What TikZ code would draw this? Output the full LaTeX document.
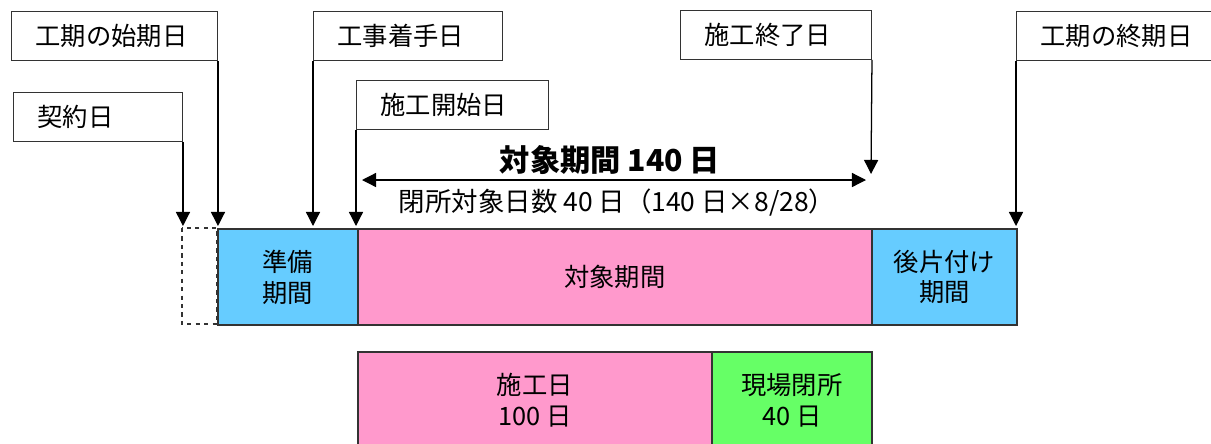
\documentclass[tikz,border=0pt]{standalone}
\usepackage{fontspec}
\setmainfont{Noto Sans CJK JP}
\usetikzlibrary{arrows.meta}
\def\pxu{0.025cm}
\definecolor{barblue}{HTML}{66CCFF}
\definecolor{barpink}{HTML}{FF99CC}
\definecolor{bargreen}{HTML}{66FF66}
\tikzset{
	daybox/.style={draw=black!80, line width=0.7pt, fill=white, inner xsep=24*\pxu, inner ysep=0pt,
		text width=#1*\pxu, align=left, minimum height=49*\pxu, anchor=north west,
		font=\fontsize{18}{20}\selectfont},
	barbox/.style={draw=black!80, line width=1.3pt, inner sep=0pt, align=center, anchor=north west,
		minimum height=96*\pxu, font=\fontsize{18}{22}\selectfont},
	pointer/.style={line width=0.9pt, -{Triangle[width=10pt,length=10pt]}},
	span/.style={line width=0.9pt, {Triangle[width=10pt,length=10pt]}-{Triangle[width=10pt,length=10pt]}},
}

\begin{document}
\begin{tikzpicture}[x=0.025cm, y=-0.025cm]
		%%%%% START %%%%%
		\useasboundingbox (0,0) rectangle (1211,443);
		
		% date boxes
		\node[daybox=158] (shiki) at (11,11) {工期の始期日};
		\node[daybox=121] (keiyaku) at (13,92) {契約日};
		\node[daybox=141] (chakushu) at (313,11) {工事着手日};
		\node[daybox=144] (kaishi) at (356,80) {施工開始日};
		\node[daybox=143] (shuryo) at (680,10) {施工終了日};
		\node[daybox=160] (shuki) at (1016,11) {工期の終期日};
		
		% bar
		\draw[dashed, draw=black!80, line width=0.8pt] (182,228) rectangle (217,324);
		\node[barbox, fill=barblue, minimum width=140*\pxu] (junbi) at (217,228) {準備\\期間};
		\node[barbox, fill=barpink, minimum width=514*\pxu] (taisho) at (357,228) {対象期間};
		\node[barbox, fill=barblue, minimum width=145*\pxu] (atokata) at (871,228) {後片付け\\期間};
		
		\node[barbox, fill=barpink, minimum width=354*\pxu] (sekou) at (357,351) {施工日\\100 日};
		\node[barbox, fill=bargreen, minimum width=160*\pxu] (heisho) at (711,351) {現場閉所\\40 日};
		
		% pointers
		\coordinate (tipline) at (0,226);
		\coordinate (endtip) at (871,174);
		\draw[pointer] (keiyaku.south east) -- (keiyaku.south east |- tipline);
		\draw[pointer] (shiki.south east) -- (shiki.south east |- tipline);
		\draw[pointer] (chakushu.south west) -- (chakushu.south west |- tipline);
		\draw[pointer] (kaishi.south west) -- (kaishi.south west |- tipline);
		\draw[pointer] (shuryo.south east) -- (endtip);
		\draw[pointer] (shuki.south west) -- (shuki.south west |- tipline);
		
		% span
		\coordinate (spanl) at (362,180);
		\coordinate (spanr) at (866,180);
		\draw[span] (spanl) -- (spanr);
		\node[font=\fontsize{21.5}{24}\selectfont\bfseries] (title) at (610,160) {対象期間 140 日};
		\node[font=\fontsize{18.8}{20}\selectfont] (note) at (617,203) {閉所対象日数 40 日（140 日×8/28）};
		
		%%%%% END %%%%%
\end{tikzpicture}
\end{document}
